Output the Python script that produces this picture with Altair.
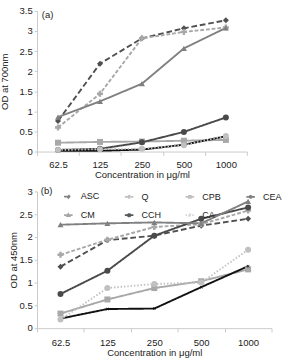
import altair as alt
import pandas as pd

conc = ["62.5", "125", "250", "500", "1000"]
series = ["ASC", "Q", "CPB", "CEA", "CM", "CCH", "CA"]

a_ASC = [0.76, 2.19, 2.82, 3.07, 3.27]
a_Q = [0.60, 1.44, 2.82, 2.98, 3.09]
a_CPB = [0.22, 0.24, 0.25, 0.27, 0.29]
a_CEA = [0.04, 0.07, 0.23, 0.49, 0.85]
a_CM = [0.86, 1.25, 1.69, 2.57, 3.08]
a_CCH = [0.02, 0.02, 0.05, 0.17, 0.38]
a_CA = [0.04, 0.06, 0.07, 0.16, 0.39]

b_ASC = [1.35, 1.93, 2.03, 2.25, 2.40]
b_Q = [1.61, 1.94, 2.22, 2.28, 2.58]
b_CPB = [0.32, 0.63, 0.88, 1.03, 1.29]
b_CEA = [0.75, 1.26, 2.03, 2.40, 2.65]
b_CM = [2.27, 2.30, 2.32, 2.30, 2.78]
b_CCH = [0.21, 0.42, 0.43, 0.90, 1.36]
b_CA = [0.19, 0.88, 0.97, 1.00, 1.72]

a_vals = [a_ASC, a_Q, a_CPB, a_CEA, a_CM, a_CCH, a_CA]
b_vals = [b_ASC, b_Q, b_CPB, b_CEA, b_CM, b_CCH, b_CA]

# styles
colors = ["#505050", "#a8a8a8", "#a8a8a8", "#4a4a4a", "#808080", "#111111", "#c0c0c0"]
dashes = [[6, 3], [4, 2], [1, 0], [1, 0], [1, 0], [1, 0], [1.5, 2]]
X_PATH = ("M-0.5,-0.35L-0.35,-0.5L0,-0.15L0.35,-0.5L0.5,-0.35L0.15,0L0.5,0.35"
          "L0.35,0.5L0,0.15L-0.35,0.5L-0.5,0.35L-0.15,0Z")
shapes = ["diamond", "cross", "square", "circle", "triangle-up", X_PATH, "circle"]

# legend keys: a line segment with the marker in its middle (unit coordinates)
SEG = "M-0.5,0L0.5,0"
r = 0.12
key_markers = [
    f"M0,-{r*1.4}L{r*1.2},0L0,{r*1.4}L-{r*1.2},0Z",
    f"M-{r},-0.02L-0.02,-0.02L-0.02,-{r}L0.02,-{r}L0.02,-0.02L{r},-0.02L{r},0.02L0.02,0.02L0.02,{r}L-0.02,{r}L-0.02,0.02L-{r},0.02Z",
    f"M-{r},-{r}L{r},-{r}L{r},{r}L-{r},{r}Z",
    f"M-{r},0A{r},{r} 0 1,0 {r},0A{r},{r} 0 1,0 -{r},0Z",
    f"M0,-{r*1.2}L{r*1.2},{r}L-{r*1.2},{r}Z",
    f"M-{r},-{r*0.7}L-{r*0.7},-{r}L0,-{r*0.3}L{r*0.7},-{r}L{r},-{r*0.7}L{r*0.3},0L{r},{r*0.7}L{r*0.7},{r}L0,{r*0.3}L-{r*0.7},{r}L-{r},{r*0.7}L-{r*0.3},0Z",
    f"M-{r},0A{r},{r} 0 1,0 {r},0A{r},{r} 0 1,0 -{r},0Z",
]
key_shapes = [SEG + m for m in key_markers]

FONT = "Liberation Sans"


def frame(vals):
    rows = []
    for s, vs in zip(series, vals):
        for c, v in zip(conc, vs):
            rows.append({"conc": c, "od": v, "series": s})
    return pd.DataFrame(rows)


def panel(df, ymax, w, h, ytitle, tag, tagx, tagy, show_legend, y_title_pad,
          x_label_pad, x_title_pad):
    xenc = alt.X(
        "conc:N", sort=conc,
        scale=alt.Scale(type="band", paddingInner=0, paddingOuter=0),
        bandPosition=0.5,
        axis=alt.Axis(title="Concentration in μg/ml", labelAngle=0, tickBand="extent",
                      domainColor="#c8c8c8", tickColor="#c8c8c8", tickSize=4,
                      labelPadding=x_label_pad, titlePadding=x_title_pad, grid=False),
    )
    ticks = [i * 0.5 for i in range(int(ymax * 2) + 1)]
    yenc = alt.Y(
        "od:Q", scale=alt.Scale(domain=[0, ymax], nice=False, zero=True),
        axis=alt.Axis(title=ytitle, values=ticks, format="~g", grid=False,
                      domainColor="#c8c8c8", tickColor="#c8c8c8", tickSize=3,
                      labelPadding=2, titlePadding=y_title_pad),
    )
    if show_legend:
        leg = alt.Legend(orient="none", legendX=23, legendY=-5, columns=4,
                         direction="horizontal", gridAlign="all",
                         columnPadding=20, rowPadding=4,
                         symbolSize=324, symbolStrokeWidth=1.8,
                         labelOffset=3, labelFontSize=9.5, labelFont=FONT,
                         labelColor="#222222", title=None, padding=0)
    else:
        leg = None
    cscale = alt.Scale(domain=series, range=colors)
    dscale = alt.Scale(domain=series, range=dashes)
    base = alt.Chart(df)
    lines = base.mark_line(strokeWidth=2).encode(
        x=xenc, y=yenc,
        color=alt.Color("series:N", scale=cscale, legend=leg),
        strokeDash=alt.StrokeDash("series:N", scale=dscale, legend=leg),
    )
    layers = [lines]
    for s, col, shp in zip(series, colors, shapes):
        layers.append(
            base.transform_filter(alt.datum.series == s)
            .mark_point(filled=True, size=40, opacity=1, color=col, shape=shp)
            .encode(x=xenc, y=yenc)
        )
    if show_legend:
        key = base.transform_filter("false").mark_point(filled=False, size=40).encode(
            x=xenc, y=yenc,
            color=alt.Color("series:N", scale=cscale, legend=leg),
            strokeDash=alt.StrokeDash("series:N", scale=dscale, legend=leg),
            fill=alt.Fill("series:N", scale=alt.Scale(domain=series, range=colors), legend=leg),
            shape=alt.Shape("series:N", scale=alt.Scale(domain=series, range=key_shapes), legend=leg),
        )
        layers.append(key)
    label = alt.Chart(alt.Data(values=[{"t": tag}])).mark_text(
        align="left", baseline="middle", fontSize=10, font=FONT, color="#222222"
    ).encode(x=alt.value(tagx), y=alt.value(tagy), text="t:N")
    layers.append(label)
    return alt.layer(*layers).properties(width=w, height=h)


top = panel(frame(a_vals), 3.5, 221, 148, "OD at 700nm", "(a)", 5, 4, False, 10, 5, 0)
bottom = panel(frame(b_vals), 3.0, 247, 144, "OD at 450nm", "(b)", 4, 0, True, 1, 6, 1)

chart = alt.vconcat(top, bottom, spacing=8).resolve_scale(
    color="independent", strokeDash="independent", fill="independent", shape="independent"
).properties(
    padding={"left": 0, "top": -3, "right": 0, "bottom": -5}
).configure(
    font=FONT
).configure_view(
    stroke=None
).configure_axis(
    labelFont=FONT, titleFont=FONT, labelFontSize=10, titleFontSize=10,
    titleFontWeight="normal", labelColor="#222222", titleColor="#222222",
)

chart.save("out.html", embed_options={"renderer": "svg", "actions": False})
